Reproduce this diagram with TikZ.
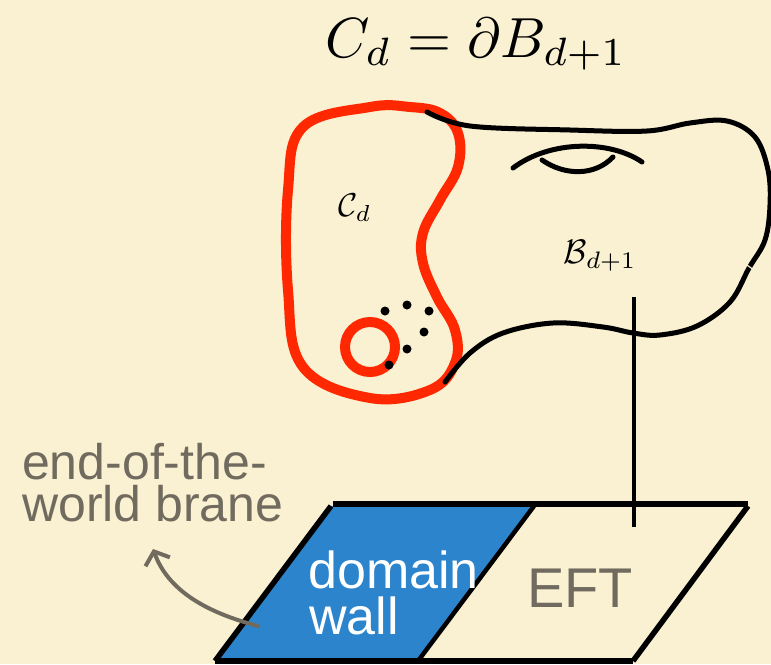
\documentclass[tikz,border=0pt]{standalone}
\usepackage{fontspec}
\setsansfont{Liberation Sans}
\usetikzlibrary{arrows.meta}
\definecolor{bgcream}{RGB}{249,241,210}
\definecolor{loopred}{RGB}{255,40,0}
\definecolor{wallblue}{RGB}{43,132,204}
\definecolor{labelgray}{RGB}{112,107,94}
\tikzset{
  redloop/.style={draw=loopred, line width=10pt, line join=round},
  blackline/.style={draw=black, line width=5pt, line cap=round},
  planeedge/.style={draw=black, line width=5.5pt},
  graytext/.style={text=labelgray, font=\sffamily\fontsize{50}{42}\selectfont, inner sep=0pt, align=left},
  walltext/.style={text=white, font=\sffamily\fontsize{52}{46}\selectfont, inner sep=0pt, align=left},
  dotmark/.style={fill=black, draw=none},
}
\begin{document}
\begin{tikzpicture}[x=1pt, y=-1pt]
\useasboundingbox (0,0) rectangle (771,664);
\fill[bgcream] (0,0) rectangle (771,664);

% formula
\node[scale=5.65, anchor=base] (formula) at (476,57) {$C_d=\partial B_{d+1}$};

% red boundary loop
\draw[redloop] plot[smooth cycle, tension=0.65] coordinates {
  (370,107) (303,127) (288,190) (288,290) (303,367) (370,398)
  (430,390) (455,363) (455,330) (437,297) (423,263) (423,233)
  (440,200) (458,167) (458,133) (440,113) (410,107)};
% small red ring
\draw[loopred, line width=10pt] (370,347) circle (25);
% dots
\foreach \p [count=\i] in {(385,311),(407,305),(429,311),(424,332),(407,349),(389,365)}
  \fill[dotmark] \p circle (4.5);

% black outline of B_{d+1}
\draw[blackline] plot[smooth, tension=0.6] coordinates {
  (427,112) (470,126) (570,130) (647,131) (690,123) (727,121)
  (755,137) (768,170) (770,205) (765,240) (749,268) (730,302)
  (697,326) (660,335) (633,333) (603,327) (553,323) (503,333)
  (470,353) (445,382)};
\draw[bgcream, line width=1.2pt] (744,263) -- (754,270);

% handle
\draw[blackline] (513,168) .. controls (550,140) and (610,140) .. (642,162);
\draw[blackline] (542,160) .. controls (565,176) and (595,176) .. (613,157);

% labels
\node[scale=3.3] (Cd) at (355,208) {$\mathcal{C}_d$};
\node[scale=3.4] (Bd) at (600,256) {$\mathcal{B}_{d+1}$};

% plane
\coordinate (tl) at (331,506);
\coordinate (tm) at (534,506);
\coordinate (tr) at (748,506);
\coordinate (bl) at (215,661);
\coordinate (bm) at (418,661);
\coordinate (br) at (633,661);
\fill[wallblue] (tl) -- (tm) -- (bm) -- (bl) -- cycle;
\draw[planeedge] (333,504) -- (748,504);
\draw[planeedge] (tl) -- (bl);
\draw[planeedge] (tr) -- (br);
\draw[planeedge] (bl) -- (br);
\draw[black, line width=4.5pt] (tm) -- (bm);

% vertical line
\coordinate (vtop) at (634,297);
\coordinate (vbot) at (634,527);
\draw[black, line width=4.5pt] (vtop) -- (vbot);

% texts
\node[graytext, anchor=base west] (eotw) at (22,521) {end-of-the-\\world brane};
\node[walltext, anchor=base west] (dom) at (308,634) {domain\\\hspace*{1pt}wall};
\node[text=labelgray, font=\sffamily\fontsize{56}{60}\selectfont, inner sep=0pt, anchor=base west] (eft) at (527,607) {EFT};

% arrow
\coordinate (arrstart) at (258,626);
\coordinate (arrend) at (153,549);
\draw[labelgray, line width=4pt, line cap=round, -{Straight Barb[length=11pt, width=26pt, line width=4pt]}]
  (arrstart) .. controls (205,612) and (168,590) .. (arrend);
\end{tikzpicture}
\end{document}
